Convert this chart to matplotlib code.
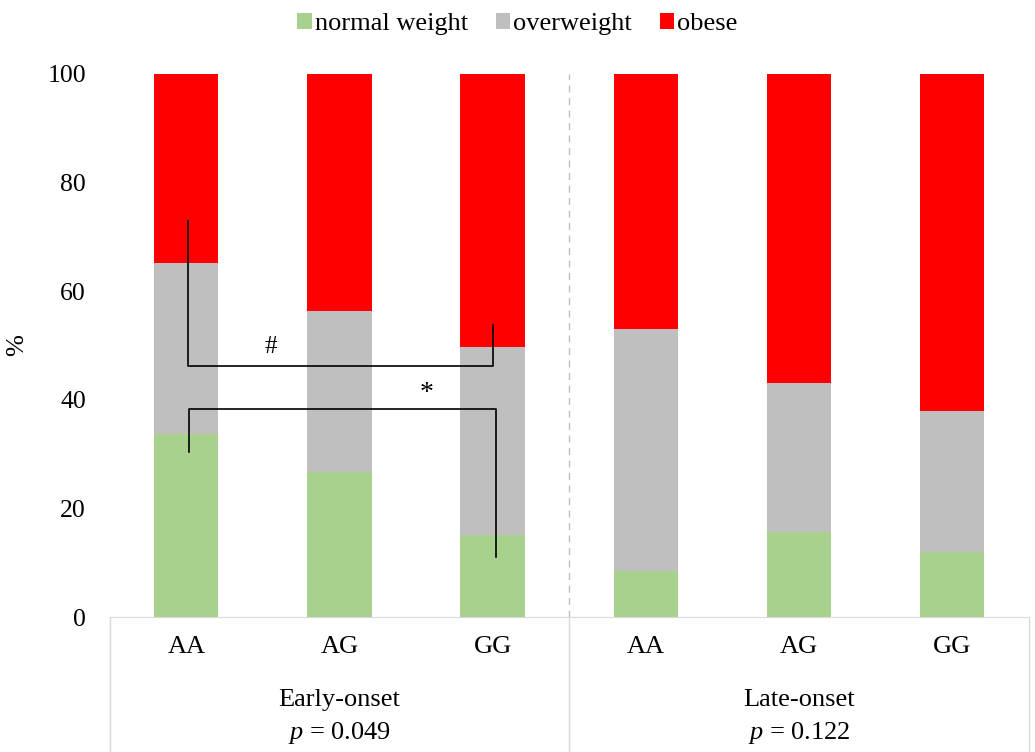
import matplotlib.pyplot as plt
import matplotlib.transforms as mtransforms
import numpy as np

plt.rcParams['font.family'] = ['Liberation Serif', 'DejaVu Serif']
plt.rcParams['mathtext.fontset'] = 'custom'
plt.rcParams['mathtext.rm'] = 'Liberation Serif'
plt.rcParams['mathtext.it'] = 'Liberation Serif:italic'

genotypes = ['AA', 'AG', 'GG', 'AA', 'AG', 'GG']
groups = ['Early-onset', 'Late-onset']
p_values = ['0.049', '0.122']
normal = [33.7, 26.7, 15.1, 8.5, 15.7, 12.0]
overweight = [31.5, 29.7, 34.6, 44.5, 27.4, 25.9]
obese = [34.8, 43.6, 50.3, 47.0, 56.9, 62.1]

colors = ['#A9D18E', '#BFBFBF', '#FF0000']
labels = ['normal weight', 'overweight', 'obese']
fs = 19

fig = plt.figure(figsize=(10.35, 7.52), dpi=100)
ax = fig.add_axes([0.106, 0.1795, 0.888, 0.7221])

x = np.arange(len(genotypes))
w = 0.42
bottom = np.zeros(len(x))
for vals, c, lab in zip([normal, overweight, obese], colors, labels):
    ax.bar(x, vals, w, bottom=bottom, color=c, label=lab)
    bottom += np.array(vals)

ax.set_xlim(-0.5, 5.5)
ax.set_ylim(0, 100)
ax.set_yticks([0, 20, 40, 60, 80, 100])
ax.tick_params(axis='y', length=0, pad=17, labelsize=fs - 0.5)
ax.set_xticks(x)
ax.set_xticklabels(genotypes)
ax.tick_params(axis='x', length=0, pad=14, labelsize=fs)
ax.set_ylabel('%', fontsize=fs, labelpad=14)
for s in ['top', 'right', 'left']:
    ax.spines[s].set_visible(False)
ax.spines['bottom'].set_color('#D9D9D9')

# separator lines
ax.axvline(2.5, color='#BFBFBF', ls=(0, (5, 4)), lw=1)
trans = mtransforms.blended_transform_factory(ax.transData, ax.transAxes)
for xv in [-0.5, 2.5, 5.5]:
    ax.plot([xv, xv], [0, -0.25], transform=trans, color='#D9D9D9', lw=1, clip_on=False)

for i, (g, p) in enumerate(zip(groups, p_values)):
    cx = 1 + 3 * i
    ax.text(cx, -0.152, g, transform=trans, ha='center', va='center', fontsize=fs)
    ax.text(cx, -0.214, '$p$ = ' + p, transform=trans, ha='center', va='center', fontsize=fs)

# significance brackets
ax.plot([0.01, 0.01, 2.0, 2.0], [72.9, 46.2, 46.2, 53.8], color='black', lw=1.2)
ax.text(0.55, 49.7, '#', ha='center', va='center', fontsize=18)
ax.plot([0.02, 0.02, 2.02, 2.02], [30.4, 38.3, 38.3, 11.0], color='black', lw=1.2)
ax.text(1.57, 41.2, '*', ha='center', va='center', fontsize=20)

handles, labs = ax.get_legend_handles_labels()
fig.legend(handles, labs, loc='center', bbox_to_anchor=(0.5, 0.968), ncol=3, frameon=False,
           fontsize=fs, handlelength=0.55, handleheight=0.55, handletextpad=0.12,
           columnspacing=1.05)

fig.savefig('out.png', dpi=100)
